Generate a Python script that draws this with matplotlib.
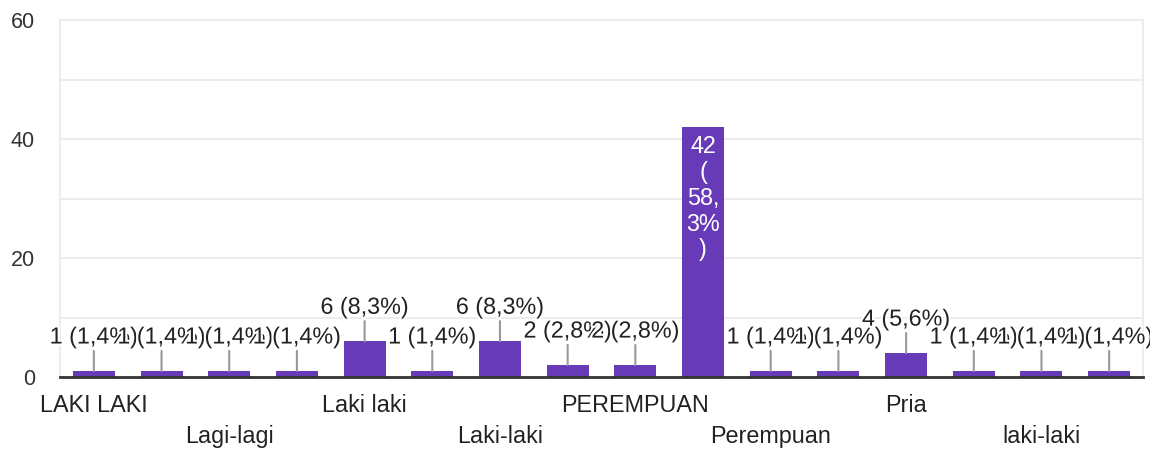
import matplotlib
matplotlib.use("Agg")
import matplotlib.pyplot as plt
import matplotlib.patheffects as pe

plt.rcParams['font.family'] = ['Liberation Sans', 'DejaVu Sans']

# data (16 answers, only every second name is shown)
categories = ["LAKI LAKI", "", "Lagi-lagi", "", "Laki laki", "", "Laki-laki", "",
              "PEREMPUAN", "", "Perempuan", "", "Pria", "", "laki-laki", ""]
counts = [1, 1, 1, 1, 6, 1, 6, 2, 2, 42, 1, 1, 4, 1, 1, 1]
labels = ["1 (1,4%)", "1 (1,4%)", "1 (1,4%)", "1 (1,4%)", "6 (8,3%)", "1 (1,4%)",
          "6 (8,3%)", "2 (2,8%)", "2 (2,8%)", "42\n(\n58,\n3%\n)", "1 (1,4%)",
          "1 (1,4%)", "4 (5,6%)", "1 (1,4%)", "1 (1,4%)", "1 (1,4%)"]
yticks = [0, 20, 40, 60]

bar_color = "#673ab7"
text_color = "#222222"
fs = 16.8

fig = plt.figure(figsize=(11.5, 4.53), dpi=100)
ax = fig.add_axes([60 / 1150, 1 - 377 / 453, 1083 / 1150, 357 / 453])

x = list(range(len(counts)))
ax.bar(x, counts, width=0.62, color=bar_color, zorder=2)

ax.set_xlim(-0.5, len(counts) - 0.5)
ax.set_ylim(0, 60)
ax.set_yticks(yticks)
ax.set_yticks([10, 30, 50], minor=True)
ax.tick_params(axis='y', which='both', length=0, pad=18, labelsize=15.5, labelcolor="#333333")
ax.set_xticks([])
ax.grid(axis='y', which='both', color="#ebebeb", lw=1.3, zorder=0)

for s in ["top", "right", "left"]:
    ax.spines[s].set_color("#ebebeb")
    ax.spines[s].set_linewidth(1.3)
ax.spines["bottom"].set_color("#333333")
ax.spines["bottom"].set_linewidth(2)
ax.spines["bottom"].set_zorder(3)

stroke = [pe.withStroke(linewidth=3, foreground="white")]
for i, (v, lab) in enumerate(zip(counts, labels)):
    if v >= 20:
        ax.annotate(lab, xy=(i, v), xytext=(0, -6), textcoords='offset points',
                    ha='center', va='top', color='white', fontsize=fs,
                    linespacing=1.15, zorder=4)
    else:
        ax.annotate('', xy=(i, v), xytext=(0, 14.5), textcoords='offset points',
                    arrowprops=dict(arrowstyle='-', color='#999999', lw=1.5,
                                    shrinkA=0, shrinkB=0), zorder=3)
        ax.annotate(lab, xy=(i, v), xytext=(0, 24.5), textcoords='offset points',
                    ha='center', va='center', color=text_color, fontsize=fs,
                    path_effects=stroke, zorder=4)

row = 0
for i, name in enumerate(categories):
    if not name:
        continue
    off = -20.5 if row % 2 == 0 else -42.5
    ax.annotate(name, xy=(i, 0), xycoords=('data', 'axes fraction'),
                xytext=(0, off), textcoords='offset points',
                ha='center', va='center', color=text_color, fontsize=fs,
                annotation_clip=False)
    row += 1

fig.savefig("out.png", dpi=100)
